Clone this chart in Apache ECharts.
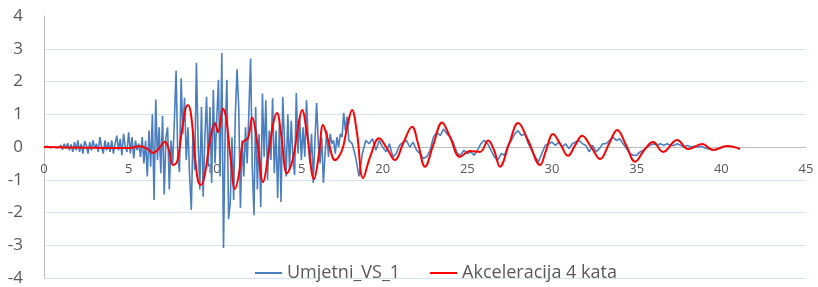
<!DOCTYPE html>
<html>
<head>
<meta charset="utf-8">
<title>Umjetni_VS_1 / Akceleracija 4 kata</title>
<script src="https://cdn.jsdelivr.net/npm/echarts@6/dist/echarts.min.js"></script>
<style>
    html, body { margin: 0; padding: 0; background: #fff; }
    #chart { width: 818px; height: 287px; }
</style>
</head>
<body>
<div id="chart"></div>
<script>
// 蓝线 Umjetni_VS_1，分三段记录（起点 + 步长）
var blueStart1 = 0, blueStep1 = 0.1;
var blueVals1 = [
    0, 0, 0.02, 0, -0.02, 0.02, 0, 0.03, -0.03, 0.02,
    0.05, -0.08, 0.1, -0.05, 0.12, -0.1, 0.08, -0.15, 0.15, -0.1,
    0.2, -0.15, 0.1, -0.2, 0.18, 0.05, -0.2, 0.15, -0.1, 0.2,
    -0.05, 0.1, -0.15, 0.3, 0.0, -0.2, 0.2, -0.1, 0.15, -0.15,
    0.2, -0.2, 0.1, 0.35, -0.1, 0.25, -0.25, 0.4, 0.0, -0.15,
    0.45, -0.2, 0.3, -0.35, 0.2, -0.1
];
var blueStart2 = 5.6, blueStep2 = 0.1;
var blueVals2 = [
    0.1, -0.3, 0.3, -0.5, 0.2, -0.9, 0.5, -0.6, 1.0, -1.62,
    1.45, -0.4, 0.6, -0.8, 0.95, -1.45, 0.3, 0.6, -1.3, 0.2,
    -0.5, 0.8, 2.33, -0.3, -0.76, 2.1, 0.4, 1.5, -0.4, 0.6,
    -0.9, -1.92, 0.5, -0.7, 2.57, 0.2, -1.3, 1.22, -1.52, 0.3,
    1.53, -0.6, 1.22, -1.1, 1.74, -0.5, 0.8, 2.05, -0.9, 2.87,
    -3.08, 0.5, 2.05, -2.2, -1.7, 0.3, -1.62, 1.0, 2.37, 1.22,
    -1.86, 0.2, -0.9, 0.6, -0.5, 1.1, 2.7, -0.6, -2.08, 1.22,
    -1.3, 0.4, -1.83, 1.63, -0.3, 1.43, -1.0, 0.5, -0.4, 1.49,
    -0.8, 0.5, -1.56, 0.7, -1.68, 1.53, 0.2, -0.9, 1.0, -0.7,
    0.8, -0.3, -0.86, 1.65, -0.2, 0.9, -0.4, 0.6, -0.3, 1.43,
    0.3, -0.5, 0.4, -1.1, 0.2, 1.34, 0.1, -0.5, 0.3, -1.1,
    -0.2, 0.5, -0.3, 0.4, 0.1, 0.2, -0.2, 0.3, 0.0, 0.4,
    0.3, 1.04, 0.5, 0.93, 0.2
];
var blueStart3 = 18.2, blueStep3 = 0.2;
var blueVals3 = [
    0.1, -0.3, -0.9, -0.2, 0.2, 0.1, 0.25, -0.1, 0.2, 0.0,
    -0.15, 0.1, -0.3, -0.2, 0.05, 0.15, 0.2, 0.0, 0.15, -0.1,
    -0.2, -0.35, -0.3, -0.1, 0.3, 0.45, 0.35, 0.55, 0.4, 0.3,
    0.1, -0.2, -0.25, -0.1, -0.2, -0.15, -0.25, -0.1, 0.1, 0.2,
    0.1, -0.1, -0.3, -0.4, -0.2, -0.25, 0.05, 0.2, 0.4, 0.5,
    0.35, 0.4, 0.1, -0.1, -0.3, -0.45, -0.2, 0.05, 0.1, 0.15,
    0.05, 0.15, 0.0, 0.1, -0.05, 0.1, 0.15, 0.2, 0.1, 0.05,
    -0.15, 0.05, -0.15, -0.05, 0.1, 0.1, 0.2, 0.3, 0.2, 0.25,
    0.1, -0.05, -0.2, -0.25, -0.25, -0.15, -0.1, 0.0, 0.05, 0.1,
    0.05, 0.1, 0.05, 0.1, 0.05, 0.05, 0.1, 0.05, 0.0, 0.05,
    0.0, 0.02, 0.0, 0.02, -0.02, -0.05, -0.08, -0.1, -0.05
];

// 红线 Akceleracija 4 kata（时间, 数值）
var redT = [
    0, 5.0, 5.67, 6.08, 6.44, 6.73, 7.15, 7.38, 7.62, 7.86,
    8.09, 8.33, 8.5, 8.68, 8.92, 9.1, 9.27, 9.51, 9.8, 10.1,
    10.28, 10.57, 10.75, 10.99, 11.28, 11.52, 11.75, 12.05, 12.29, 12.58,
    12.94, 13.23, 13.53, 13.76, 14.0, 14.35, 14.71, 15.0, 15.24, 15.53,
    15.95, 16.24, 16.48, 16.78, 17.19, 17.6, 17.9, 18.19, 18.49, 18.84,
    19.26, 19.79, 20.26, 20.73, 21.2, 21.74, 22.09, 22.5, 22.98, 23.51,
    23.98, 24.57, 25.16, 25.75, 26.23, 26.58, 26.93, 27.47, 28.0, 28.59,
    29.3, 29.65, 30.06, 30.48, 30.95, 31.36, 31.78, 32.31, 32.84, 33.37,
    33.85, 34.38, 34.91, 35.44, 35.97, 36.56, 37.39, 38.04, 38.87, 39.52,
    40.34, 41.11
];
var redV = [
    0, -0.03, 0.02, -0.05, -0.18, -0.08, 0.16, -0.1, -0.55, -0.45,
    0.3, 1.1, 1.28, 1.0, -0.3, -1.05, -1.16, -0.8, 0.2, 0.73,
    0.45, 1.17, 0.9, -0.2, -1.28, -0.8, 0.15, 0.27, 0.9, 0.2,
    -1.07, -0.3, 0.7, 1.04, 0.4, -0.8, -0.34, 0.6, 1.13, 0.4,
    -0.98, -0.2, 0.67, 0.2, -0.4, -0.1, 0.6, 1.13, 0.4, -0.95,
    -0.3, 0.27, -0.05, -0.4, 0.1, 0.62, 0.1, -0.6, 0.05, 0.75,
    0.3, -0.3, -0.12, -0.15, 0.2, -0.1, -0.6, 0.1, 0.73, 0.2,
    -0.55, -0.1, 0.4, 0.1, -0.27, 0.05, 0.34, 0.0, -0.37, 0.1,
    0.52, 0.05, -0.45, -0.1, 0.15, -0.15, 0.21, -0.06, 0.09, -0.09,
    0.03, -0.06
];

var yTicks = [-4, -3, -2, -1, 0, 1, 2, 3, 4];

window.onload = function () {
    // 组装 [x, y] 数据
    function segPairs(start, step, vals, out) {
        for (var i = 0; i < vals.length; i++) {
            out.push([+(start + i * step).toFixed(2), vals[i]]);
        }
        return out;
    }
    var blueData = [];
    segPairs(blueStart1, blueStep1, blueVals1, blueData);
    segPairs(blueStart2, blueStep2, blueVals2, blueData);
    segPairs(blueStart3, blueStep3, blueVals3, blueData);

    var redData = [];
    for (var i = 0; i < redT.length; i++) {
        redData.push([redT[i], redV[i]]);
    }

    // 网格线颜色：最上面一条(4)不画
    var gridColors = yTicks.map(function (v) {
        return v === 4 ? 'rgba(0,0,0,0)' : '#d3e2f4';
    });

    var gridTop = 16, gridBottom = 9, chartH = 287;
    var plotH = chartH - gridTop - gridBottom;
    // x轴放在 y=0 处（用 offset 往上挪半个绘图区高度）
    var xOffset = -plotH / 2;

    var myChart = echarts.init(document.getElementById('chart'));
    var option = {
        animation: false,
        backgroundColor: '#fff',
        textStyle: { fontFamily: 'Open Sans, Noto Sans, sans-serif' },
        grid: {
            left: 44,
            right: 12,
            top: gridTop,
            bottom: gridBottom,
            containLabel: false,
            outerBoundsMode: 'none'
        },
        legend: {
            top: 259,
            left: 250,
            itemWidth: 27,
            itemHeight: 2,
            itemGap: 30,
            icon: 'rect',
            textStyle: { color: '#595959', fontSize: 18 },
            data: ['Umjetni_VS_1', 'Akceleracija 4 kata']
        },
        xAxis: {
            type: 'value',
            min: 0,
            max: 45,
            interval: 5,
            position: 'bottom',
            offset: xOffset,
            axisLine: { onZero: false, lineStyle: { color: '#bfbfbf', width: 1 } },
            axisTick: { show: false },
            axisLabel: { color: '#595959', fontSize: 13, margin: 16 },
            splitLine: { show: false }
        },
        yAxis: {
            type: 'value',
            min: -4,
            max: 4,
            interval: 1,
            axisLine: { show: true, onZero: false, lineStyle: { color: '#bfbfbf', width: 1 } },
            axisTick: { show: false },
            axisLabel: { color: '#595959', fontSize: 17, margin: 21 },
            splitLine: { show: true, lineStyle: { color: gridColors, width: 1 } }
        },
        series: [
            {
                name: 'Umjetni_VS_1',
                type: 'line',
                showSymbol: false,
                data: blueData,
                lineStyle: { color: '#4a7ebf', width: 1.6 },
                itemStyle: { color: '#4a7ebf' },
                z: 2
            },
            {
                name: 'Akceleracija 4 kata',
                type: 'line',
                showSymbol: false,
                smooth: 0.4,
                data: redData,
                lineStyle: { color: '#ff0000', width: 2 },
                itemStyle: { color: '#ff0000' },
                z: 3
            }
        ]
    };
    myChart.setOption(option);
};
</script>
</body>
</html>
